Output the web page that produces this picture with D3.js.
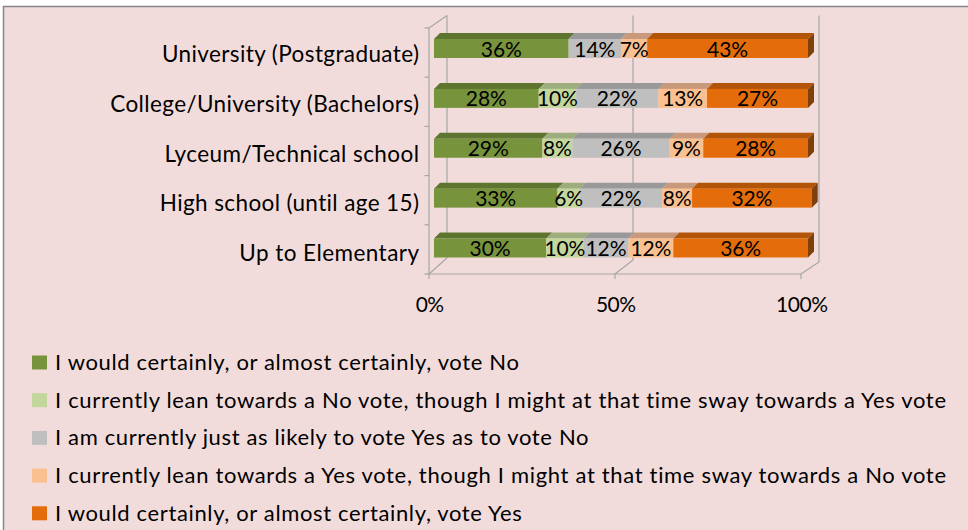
<!DOCTYPE html>
<html><head><meta charset="utf-8">
<script src="https://cdn.jsdelivr.net/npm/d3@7"></script>
<style>
html,body{margin:0;padding:0;background:#fff;}
svg{display:block;}
text{font-family:Lato,"Open Sans",sans-serif;fill:#000;font-variant-ligatures:none;font-feature-settings:"liga" 0,"clig" 0;}
</style></head>
<body>
<svg id="chart" width="968" height="530"></svg>
<script>
// ---- data ----
const categories = ["University (Postgraduate)", "College/University (Bachelors)", "Lyceum/Technical school", "High school (until age 15)", "Up to Elementary"];
const seriesNames = [
  "I would certainly, or almost certainly, vote No",
  "I currently lean towards a No vote, though I might at that time sway towards a Yes vote",
  "I am currently just as likely to vote Yes as to vote No",
  "I currently lean towards a Yes vote, though I might at that time sway towards a No vote",
  "I would certainly, or almost certainly, vote Yes"
];
const certainlyNo = [36, 28, 29, 33, 30];
const leanNo      = [0, 10, 8, 6, 10];
const undecided   = [14, 22, 26, 22, 12];
const leanYes     = [7, 13, 9, 8, 12];
const certainlyYes= [43, 27, 28, 32, 36];
const tickValues = [0, 50, 100];
const tickLabels = ["0%", "50%", "100%"];

// ---- styles ----
const frontColors = ["#77933C", "#C3D69B", "#BFBFBF", "#FAC090", "#E46C0A"];
const topColors   = ["#5E7530", "#9DAD7D", "#999999", "#C8997A", "#B35508"];
const sideColors  = ["#4B5E26", "#7E8A63", "#7A7A7A", "#A07A60", "#80400A"];
const gridColor = "#A6A6A6";

const svg = d3.select("#chart");
svg.append("rect").attr("x", 3.5).attr("y", 6.5).attr("width", 990).attr("height", 560)
  .attr("fill", "#F2DCDB").attr("stroke", "#868686").attr("stroke-width", 1.5);

const keys = seriesNames.map((d, i) => i);
const seriesVals = [certainlyNo, leanNo, undecided, leanYes, certainlyYes];
const rows = categories.map((c, j) => {
  const o = {cat: c};
  keys.forEach(k => o[k] = seriesVals[k][j]);
  return o;
});
const stacked = d3.stack().keys(keys)(rows);

// scales
const xFront = d3.scaleLinear().domain([0, 100]).range([429, 801]);
const xBack  = d3.scaleLinear().domain([0, 100]).range([447, 819]);
const xBar   = d3.scaleLinear().domain([0, 100]).range([434, 808]);
const yBand  = d3.scaleBand().domain(categories).range([28, 274]);
const yLabel = d3.scalePoint().domain(categories).range([62, 261]);
const yBar   = d3.scalePoint().domain(categories).range([48.5, 248]);
const barH = 19, dx = 6, dy = 6;
const floorFrontY = 274;
const backBottom = d3.scaleLinear().domain([0, 100]).range([258, 262]);
const backTop = 15.5;

// walls / gridlines
const g = svg.append("g").attr("fill", "none").attr("stroke", gridColor).attr("stroke-width", 1.2);
tickValues.forEach(t => {
  g.append("path").attr("d",
    `M${xFront(t)},${floorFrontY} L${xBack(t)},${backBottom(t)} L${xBack(t)},${backTop}`);
});
g.append("path").attr("d", `M${xFront(0)},${floorFrontY} L${xFront(0)},28 L${xBack(0)},${backTop}`);
g.append("line").attr("x1", xFront(0)).attr("x2", xFront(100)).attr("y1", floorFrontY).attr("y2", floorFrontY);
const bounds = categories.map(c => yBand(c)).concat([yBand.range()[1]]);
bounds.forEach(y => g.append("line").attr("x1", xFront(0) - 4.5).attr("x2", xFront(0)).attr("y1", y).attr("y2", y));
tickValues.forEach(t => g.append("line").attr("x1", xFront(t)).attr("x2", xFront(t)).attr("y1", floorFrontY).attr("y2", floorFrontY + 5));

// bars
const barsG = svg.append("g");
categories.forEach((c, j) => {
  const yT = yBar(c) - barH / 2, yB = yBar(c) + barH / 2;
  stacked.forEach((s, k) => {
    const d = s[j];
    if (d[1] - d[0] <= 0) return;
    const x0 = xBar(d[0]), x1 = xBar(d[1]);
    barsG.append("path").attr("fill", topColors[k])
      .attr("d", `M${x0},${yT} L${x0 + dx},${yT - dy} L${x1 + dx},${yT - dy} L${x1},${yT} Z`);
    barsG.append("rect").attr("x", x0).attr("y", yT).attr("width", x1 - x0).attr("height", barH)
      .attr("fill", frontColors[k]);
  });
  const last = stacked[stacked.length - 1][j];
  const xe = xBar(last[1]);
  barsG.append("path").attr("fill", sideColors[sideColors.length - 1])
    .attr("d", `M${xe},${yT} L${xe + dx},${yT - dy} L${xe + dx},${yB - dy} L${xe},${yB} Z`);
});

// fit helper: scale text widths by group factor (mimics Excel's loose spacing)
function fitGroup(sel, refNode, targetWidth) {
  const k = targetWidth / refNode.getComputedTextLength();
  sel.each(function () {
    const w = this.getComputedTextLength();
    d3.select(this).attr("textLength", w * k).attr("lengthAdjust", "spacing");
  });
}

// data labels
const labelsG = svg.append("g");
categories.forEach((c, j) => {
  stacked.forEach((s, k) => {
    const d = s[j];
    const v = d[1] - d[0];
    if (v <= 0) return;
    labelsG.append("text").attr("x", (xBar(d[0]) + xBar(d[1])) / 2).attr("y", yBar(c) + 8)
      .attr("text-anchor", "middle").attr("font-size", 21).text(v + "%");
  });
});
const dl = labelsG.selectAll("text");
fitGroup(dl, dl.node(), 41);

// category labels
const catT = svg.append("g").selectAll("text").data(categories).join("text")
  .attr("x", 419).attr("y", d => yLabel(d)).attr("text-anchor", "end").attr("font-size", 22.5).text(d => d);
fitGroup(catT, catT.node(), 257);

// x axis labels
const axT = svg.append("g").selectAll("text").data(tickValues).join("text")
  .attr("x", d => xFront(d) + 1).attr("y", 311.5).attr("text-anchor", "middle").attr("font-size", 21)
  .text((d, i) => tickLabels[i]);
fitGroup(axT, axT.nodes()[2], 52);

// legend
const legY = d3.scalePoint().domain(keys).range([370, 520.8]);
const legG = svg.append("g");
legG.selectAll("rect").data(keys).join("rect")
  .attr("x", 32).attr("y", d => legY(d) - 14.5).attr("width", 15).attr("height", 14)
  .attr("fill", d => frontColors[d]);
const legT = legG.selectAll("text").data(keys).join("text")
  .attr("x", 55).attr("y", d => legY(d)).attr("font-size", 22).text(d => seriesNames[d]);
fitGroup(legT, legT.nodes()[1], 891);
</script>
</body></html>
